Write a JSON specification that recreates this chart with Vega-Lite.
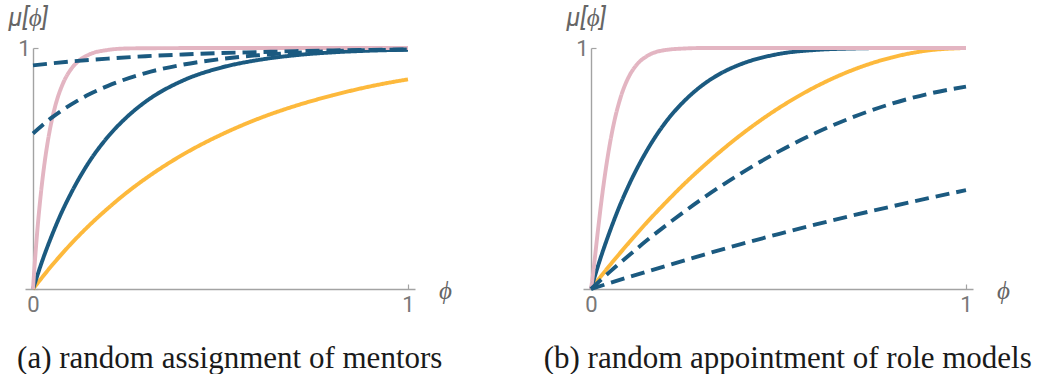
{
  "$schema": "https://vega.github.io/schema/vega-lite/v6.json",
  "background": "white",
  "padding": {"left": 8, "top": 5, "right": 0, "bottom": 0},
  "bounds": "flush",
  "spacing": 168,
  "config": {
    "view": {"stroke": null},
    "axis": {
      "grid": false,
      "domainColor": "#a3a3a3",
      "domainWidth": 1.4,
      "tickColor": "#a3a3a3",
      "tickWidth": 1.2,
      "tickSize": -5,
      "labelFont": "Roboto",
      "labelFontSize": 22,
      "labelColor": "#777777",
      "format": "d",
      "titleFont": "Roboto",
      "titleFontSize": 25,
      "titleFontWeight": "normal",
      "titleFontStyle": "italic",
      "titleColor": "#666666"
    }
  },
  "datasets": {
    "a": [
      {"curve": "s1", "phi": 0, "mu": 0}, {"curve": "s1", "phi": 0.05, "mu": 0.097}, {"curve": "s1", "phi": 0.1, "mu": 0.185}, {"curve": "s1", "phi": 0.15, "mu": 0.264}, {"curve": "s1", "phi": 0.2, "mu": 0.335}, {"curve": "s1", "phi": 0.25, "mu": 0.4}, {"curve": "s1", "phi": 0.3, "mu": 0.458}, {"curve": "s1", "phi": 0.4, "mu": 0.558}, {"curve": "s1", "phi": 0.5, "mu": 0.639}, {"curve": "s1", "phi": 0.6, "mu": 0.706}, {"curve": "s1", "phi": 0.7, "mu": 0.76}, {"curve": "s1", "phi": 0.8, "mu": 0.804}, {"curve": "s1", "phi": 0.9, "mu": 0.841}, {"curve": "s1", "phi": 1, "mu": 0.87},
      {"curve": "s2", "phi": 0, "mu": 0}, {"curve": "s2", "phi": 0.025, "mu": 0.118}, {"curve": "s2", "phi": 0.05, "mu": 0.221}, {"curve": "s2", "phi": 0.075, "mu": 0.313}, {"curve": "s2", "phi": 0.1, "mu": 0.393}, {"curve": "s2", "phi": 0.15, "mu": 0.528}, {"curve": "s2", "phi": 0.2, "mu": 0.632}, {"curve": "s2", "phi": 0.25, "mu": 0.713}, {"curve": "s2", "phi": 0.3, "mu": 0.777}, {"curve": "s2", "phi": 0.4, "mu": 0.865}, {"curve": "s2", "phi": 0.5, "mu": 0.918}, {"curve": "s2", "phi": 0.6, "mu": 0.95}, {"curve": "s2", "phi": 0.7, "mu": 0.97}, {"curve": "s2", "phi": 0.8, "mu": 0.982}, {"curve": "s2", "phi": 0.9, "mu": 0.989}, {"curve": "s2", "phi": 1, "mu": 0.993},
      {"curve": "s3", "phi": 0, "mu": 0}, {"curve": "s3", "phi": 0.005, "mu": 0.113}, {"curve": "s3", "phi": 0.01, "mu": 0.213}, {"curve": "s3", "phi": 0.015, "mu": 0.302}, {"curve": "s3", "phi": 0.02, "mu": 0.381}, {"curve": "s3", "phi": 0.03, "mu": 0.513}, {"curve": "s3", "phi": 0.04, "mu": 0.617}, {"curve": "s3", "phi": 0.05, "mu": 0.699}, {"curve": "s3", "phi": 0.06, "mu": 0.763}, {"curve": "s3", "phi": 0.08, "mu": 0.853}, {"curve": "s3", "phi": 0.1, "mu": 0.909}, {"curve": "s3", "phi": 0.12, "mu": 0.944}, {"curve": "s3", "phi": 0.15, "mu": 0.973}, {"curve": "s3", "phi": 0.2, "mu": 0.992}, {"curve": "s3", "phi": 0.25, "mu": 0.998}, {"curve": "s3", "phi": 0.3, "mu": 0.999}, {"curve": "s3", "phi": 0.5, "mu": 1}, {"curve": "s3", "phi": 1, "mu": 1},
      {"curve": "s4", "phi": 0, "mu": 0.928}, {"curve": "s4", "phi": 0.1, "mu": 0.944}, {"curve": "s4", "phi": 0.2, "mu": 0.956}, {"curve": "s4", "phi": 0.3, "mu": 0.966}, {"curve": "s4", "phi": 0.4, "mu": 0.973}, {"curve": "s4", "phi": 0.5, "mu": 0.979}, {"curve": "s4", "phi": 0.6, "mu": 0.983}, {"curve": "s4", "phi": 0.7, "mu": 0.987}, {"curve": "s4", "phi": 0.8, "mu": 0.99}, {"curve": "s4", "phi": 0.9, "mu": 0.992}, {"curve": "s4", "phi": 1, "mu": 0.994},
      {"curve": "s5", "phi": 0, "mu": 0.645}, {"curve": "s5", "phi": 0.05, "mu": 0.711}, {"curve": "s5", "phi": 0.1, "mu": 0.764}, {"curve": "s5", "phi": 0.15, "mu": 0.808}, {"curve": "s5", "phi": 0.2, "mu": 0.843}, {"curve": "s5", "phi": 0.3, "mu": 0.896}, {"curve": "s5", "phi": 0.4, "mu": 0.931}, {"curve": "s5", "phi": 0.5, "mu": 0.954}, {"curve": "s5", "phi": 0.6, "mu": 0.97}, {"curve": "s5", "phi": 0.7, "mu": 0.98}, {"curve": "s5", "phi": 0.8, "mu": 0.987}, {"curve": "s5", "phi": 0.9, "mu": 0.991}, {"curve": "s5", "phi": 1, "mu": 0.994}
    ],
    "b": [
      {"curve": "s1", "phi": 0, "mu": 0}, {"curve": "s1", "phi": 0.05, "mu": 0.098}, {"curve": "s1", "phi": 0.1, "mu": 0.19}, {"curve": "s1", "phi": 0.15, "mu": 0.278}, {"curve": "s1", "phi": 0.2, "mu": 0.36}, {"curve": "s1", "phi": 0.25, "mu": 0.438}, {"curve": "s1", "phi": 0.3, "mu": 0.51}, {"curve": "s1", "phi": 0.4, "mu": 0.64}, {"curve": "s1", "phi": 0.5, "mu": 0.75}, {"curve": "s1", "phi": 0.6, "mu": 0.84}, {"curve": "s1", "phi": 0.7, "mu": 0.91}, {"curve": "s1", "phi": 0.8, "mu": 0.96}, {"curve": "s1", "phi": 0.9, "mu": 0.99}, {"curve": "s1", "phi": 1, "mu": 1},
      {"curve": "s2", "phi": 0, "mu": 0}, {"curve": "s2", "phi": 0.025, "mu": 0.126}, {"curve": "s2", "phi": 0.05, "mu": 0.238}, {"curve": "s2", "phi": 0.075, "mu": 0.339}, {"curve": "s2", "phi": 0.1, "mu": 0.428}, {"curve": "s2", "phi": 0.15, "mu": 0.577}, {"curve": "s2", "phi": 0.2, "mu": 0.694}, {"curve": "s2", "phi": 0.25, "mu": 0.782}, {"curve": "s2", "phi": 0.3, "mu": 0.849}, {"curve": "s2", "phi": 0.35, "mu": 0.898}, {"curve": "s2", "phi": 0.4, "mu": 0.933}, {"curve": "s2", "phi": 0.5, "mu": 0.975}, {"curve": "s2", "phi": 0.6, "mu": 0.992}, {"curve": "s2", "phi": 0.7, "mu": 0.998}, {"curve": "s2", "phi": 0.8, "mu": 1}, {"curve": "s2", "phi": 1, "mu": 1},
      {"curve": "s3", "phi": 0, "mu": 0}, {"curve": "s3", "phi": 0.005, "mu": 0.056}, {"curve": "s3", "phi": 0.01, "mu": 0.124}, {"curve": "s3", "phi": 0.015, "mu": 0.194}, {"curve": "s3", "phi": 0.02, "mu": 0.263}, {"curve": "s3", "phi": 0.03, "mu": 0.391}, {"curve": "s3", "phi": 0.04, "mu": 0.503}, {"curve": "s3", "phi": 0.05, "mu": 0.599}, {"curve": "s3", "phi": 0.06, "mu": 0.68}, {"curve": "s3", "phi": 0.08, "mu": 0.8}, {"curve": "s3", "phi": 0.1, "mu": 0.878}, {"curve": "s3", "phi": 0.12, "mu": 0.927}, {"curve": "s3", "phi": 0.15, "mu": 0.967}, {"curve": "s3", "phi": 0.2, "mu": 0.992}, {"curve": "s3", "phi": 0.25, "mu": 0.998}, {"curve": "s3", "phi": 0.3, "mu": 1}, {"curve": "s3", "phi": 0.5, "mu": 1}, {"curve": "s3", "phi": 1, "mu": 1},
      {"curve": "s4", "phi": 0, "mu": 0}, {"curve": "s4", "phi": 0.05, "mu": 0.071}, {"curve": "s4", "phi": 0.1, "mu": 0.138}, {"curve": "s4", "phi": 0.15, "mu": 0.203}, {"curve": "s4", "phi": 0.2, "mu": 0.264}, {"curve": "s4", "phi": 0.3, "mu": 0.378}, {"curve": "s4", "phi": 0.4, "mu": 0.48}, {"curve": "s4", "phi": 0.5, "mu": 0.57}, {"curve": "s4", "phi": 0.6, "mu": 0.648}, {"curve": "s4", "phi": 0.7, "mu": 0.714}, {"curve": "s4", "phi": 0.8, "mu": 0.768}, {"curve": "s4", "phi": 0.9, "mu": 0.81}, {"curve": "s4", "phi": 1, "mu": 0.84},
      {"curve": "s5", "phi": 0, "mu": 0}, {"curve": "s5", "phi": 0.1, "mu": 0.049}, {"curve": "s5", "phi": 0.2, "mu": 0.096}, {"curve": "s5", "phi": 0.3, "mu": 0.142}, {"curve": "s5", "phi": 0.4, "mu": 0.186}, {"curve": "s5", "phi": 0.5, "mu": 0.228}, {"curve": "s5", "phi": 0.6, "mu": 0.268}, {"curve": "s5", "phi": 0.7, "mu": 0.306}, {"curve": "s5", "phi": 0.8, "mu": 0.342}, {"curve": "s5", "phi": 0.9, "mu": 0.377}, {"curve": "s5", "phi": 1, "mu": 0.41}
    ]
  },
  "hconcat": [
    {
      "width": 390,
      "height": 241,
      "data": {"name": "a"},
      "title": {"text": "(a) random assignment of mentors", "orient": "bottom", "anchor": "middle", "frame": "bounds", "font": "Liberation Serif", "fontSize": 31, "fontWeight": "normal", "color": "#1a1a1a", "offset": 29},
      "mark": {"type": "line", "strokeWidth": 3.9, "interpolate": "monotone", "clip": false},
      "encoding": {
        "x": {"field": "phi", "type": "quantitative", "scale": {"domain": [-0.0213, 1.0187], "nice": false, "zero": false},
          "axis": {"values": [0, 1], "labelPadding": 10, "title": "ϕ", "titleAngle": 0, "titleX": 420, "titleY": 1, "titleAlign": "center", "titleBaseline": "middle"}},
        "y": {"field": "mu", "type": "quantitative", "scale": {"domain": [0, 1], "nice": false},
          "axis": {"values": [0, 1], "offset": -8, "labelPadding": 8, "labelExpr": "datum.value == 1 ? '1' : ''", "title": "μ[ϕ]", "titleAngle": 0, "titleX": -25, "titleY": -31, "titleAlign": "left", "titleBaseline": "middle"}},
        "color": {"field": "curve", "type": "nominal", "legend": null,
          "scale": {"domain": ["s1", "s2", "s3", "s4", "s5"], "range": ["#fdb93c", "#1b5a80", "#e3b5c2", "#1b5a80", "#1b5a80"]}},
        "strokeDash": {"field": "curve", "type": "nominal", "legend": null,
          "scale": {"domain": ["s1", "s2", "s3", "s4", "s5"], "range": [[1, 0], [1, 0], [1, 0], [14, 7], [14, 7]]}}
      }
    },
    {
      "width": 390,
      "height": 241,
      "data": {"name": "b"},
      "title": {"text": "(b) random appointment of role models", "orient": "bottom", "anchor": "middle", "frame": "bounds", "font": "Liberation Serif", "fontSize": 31, "fontWeight": "normal", "color": "#1a1a1a", "offset": 29},
      "mark": {"type": "line", "strokeWidth": 3.9, "interpolate": "monotone", "clip": false},
      "encoding": {
        "x": {"field": "phi", "type": "quantitative", "scale": {"domain": [-0.0213, 1.0187], "nice": false, "zero": false},
          "axis": {"values": [0, 1], "labelPadding": 10, "title": "ϕ", "titleAngle": 0, "titleX": 420, "titleY": 1, "titleAlign": "center", "titleBaseline": "middle"}},
        "y": {"field": "mu", "type": "quantitative", "scale": {"domain": [0, 1], "nice": false},
          "axis": {"values": [0, 1], "offset": -8, "labelPadding": 8, "labelExpr": "datum.value == 1 ? '1' : ''", "title": "μ[ϕ]", "titleAngle": 0, "titleX": -25, "titleY": -31, "titleAlign": "left", "titleBaseline": "middle"}},
        "color": {"field": "curve", "type": "nominal", "legend": null,
          "scale": {"domain": ["s1", "s2", "s3", "s4", "s5"], "range": ["#fdb93c", "#1b5a80", "#e3b5c2", "#1b5a80", "#1b5a80"]}},
        "strokeDash": {"field": "curve", "type": "nominal", "legend": null,
          "scale": {"domain": ["s1", "s2", "s3", "s4", "s5"], "range": [[1, 0], [1, 0], [1, 0], [14, 7], [14, 7]]}}
      }
    }
  ]
}
